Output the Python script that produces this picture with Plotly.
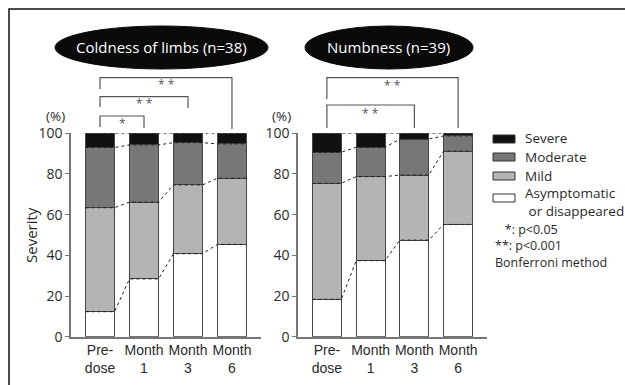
import numpy as np
import plotly.graph_objects as go

# Timepoints and severity shares (%) per panel
timepoints = ["Pre-<br>dose", "Month<br>1", "Month<br>3", "Month<br>6"]
severity_levels = ["Asymptomatic or disappeared", "Mild", "Moderate", "Severe"]

coldness_asymptomatic = [12.3, 28.4, 40.8, 45.4]
coldness_mild = [51.1, 37.8, 33.8, 32.5]
coldness_moderate = [29.6, 28.1, 20.8, 16.9]
coldness_severe = [7.0, 5.7, 4.6, 5.2]

numbness_asymptomatic = [18.4, 37.4, 47.5, 55.2]
numbness_mild = [57.0, 41.3, 32.0, 36.1]
numbness_moderate = [15.3, 14.4, 17.7, 7.4]
numbness_severe = [9.3, 6.9, 2.8, 1.3]

y_ticks = [0, 20, 40, 60, 80, 100]

W, H = 625, 385
BAR_W = 0.66
colors = ["#ffffff", "#b4b4b4", "#777777", "#111111"]
TXT = "#2a2a2a"
AX = "#777777"
FONT = "Open Sans, Liberation Sans, sans-serif"
NARROW = "Liberation Sans Narrow, Liberation Sans, Arial, sans-serif"
NBSP = "\u00a0"


def px(x):
    return x / W


def py(y):
    return 1 - y / H


fig = go.Figure()

panels = [
    ("x", "y", [coldness_asymptomatic, coldness_mild, coldness_moderate, coldness_severe]),
    ("x2", "y2", [numbness_asymptomatic, numbness_mild, numbness_moderate, numbness_severe]),
]

cats = np.arange(len(timepoints))
for xa, ya, series in panels:
    for vals, col, name in zip(series, colors, severity_levels):
        fig.add_trace(go.Bar(
            x=cats, y=vals, width=BAR_W, name=name, xaxis=xa, yaxis=ya,
            marker=dict(color=col, line=dict(color="#444444", width=1)),
            showlegend=False, hoverinfo="skip",
        ))
    # dotted connectors between the boundaries of consecutive bars
    cum = np.cumsum(np.array(series), axis=0)
    for level in cum:
        xs, ys = [], []
        for i, v in zip(cats, level):
            xs += [i - BAR_W / 2, i + BAR_W / 2]
            ys += [v, v]
        fig.add_trace(go.Scatter(
            x=xs, y=ys, mode="lines", xaxis=xa, yaxis=ya,
            line=dict(color="#222222", width=1, dash="dot"),
            showlegend=False, hoverinfo="skip", cliponaxis=False,
        ))

ydom = [py(336.7), py(133.3)]
axis_common = dict(
    showgrid=False, zeroline=False, showline=True, linecolor=AX, linewidth=1.5,
    automargin=False, fixedrange=True,
)
xtick_common = dict(tickvals=list(cats), ticktext=timepoints, ticks="", tickangle=0,
                    tickfont=dict(family=NARROW, size=14, color=TXT))
ytick_common = dict(tickvals=y_ticks, ticks="outside", ticklen=4, tickcolor=AX,
                    tickwidth=1.2, tickfont=dict(size=14, color=TXT))
fig.update_layout(
    width=W, height=H, margin=dict(l=0, r=0, t=0, b=0, pad=0), autosize=False,
    paper_bgcolor="white", plot_bgcolor="white", barmode="stack",
    font=dict(family=FONT, color=TXT),
    xaxis=dict(domain=[px(71), px(261)], range=[-0.66, 3.66], anchor="y",
               **xtick_common, **axis_common),
    yaxis=dict(domain=ydom, range=[0, 100], anchor="x", **ytick_common, **axis_common),
    xaxis2=dict(domain=[px(298), px(487)], range=[-0.66, 3.66], anchor="y2",
                **xtick_common, **axis_common),
    yaxis2=dict(domain=ydom, range=[0, 100], anchor="x2", **ytick_common, **axis_common),
)

shapes = []
ann = []

# outer frame (top and left edges visible)
shapes.append(dict(type="rect", xref="paper", yref="paper",
                   x0=px(9), x1=px(640), y0=py(400), y1=py(9),
                   line=dict(color="#111111", width=1.5), fillcolor="rgba(0,0,0,0)"))

# panel titles in black ellipses
titles = [("Coldness of limbs (n=38)", 55, 268), ("Numbness (n=39)", 305, 473)]
for text, x0, x1 in titles:
    shapes.append(dict(type="circle", xref="paper", yref="paper",
                       x0=px(x0), x1=px(x1), y0=py(69), y1=py(26),
                       fillcolor="#0a0a0a", line=dict(color="#0a0a0a", width=1)))
    ann.append(dict(x=px((x0 + x1) / 2), y=py(47.5), xref="paper", yref="paper",
                    text=text, showarrow=False, xanchor="center", yanchor="middle",
                    font=dict(size=15, color="white")))

# significance brackets: (x-axis, start, end, left leg bottom, top, right leg bottom, label, label y)
brackets = [
    ("x", 0, 3, 89, 77.7, 129, "* *", 85),
    ("x", 0, 2, 107, 96.7, 108, "* *", 104),
    ("x", 0, 1, 127, 116, 128, "*", 123),
    ("x2", 0, 3, 99, 77.7, 128, "* *", 86),
    ("x2", 0, 2, 128, 105, 128, "* *", 113),
]
for xa, a, b, lb, top, rb, lab, ly in brackets:
    shapes.append(dict(type="path", xref=xa, yref="paper",
                       path=f"M {a},{py(lb)} L {a},{py(top)} L {b},{py(top)} L {b},{py(rb)}",
                       line=dict(color="#555555", width=1.2)))
    ann.append(dict(x=(a + b) / 2, y=py(ly), xref=xa, yref="paper", text=lab,
                    showarrow=False, xanchor="center", yanchor="middle",
                    font=dict(size=12, color="#555555")))

# unit labels and y title
for xc in (55, 281):
    ann.append(dict(x=px(xc), y=py(116.5), xref="paper", yref="paper", text="(%)",
                    showarrow=False, xanchor="center", yanchor="middle",
                    font=dict(size=13.5, color=TXT)))
ann.append(dict(x=px(31), y=py(235), xref="paper", yref="paper", text="Severity",
                textangle=-90, showarrow=False, xanchor="center", yanchor="middle",
                font=dict(size=15, color=TXT)))

# legend swatches and labels
legend_rows = [
    (colors[3], 139, "Severe", 138.5),
    (colors[2], 157, "Moderate", 156.5),
    (colors[1], 176, "Mild", 175.5),
    (colors[0], 198, "Asymptomatic<br>" + NBSP + "or disappeared", 201.5),
]
for col, yc, label, ty in legend_rows:
    shapes.append(dict(type="rect", xref="paper", yref="paper",
                       x0=px(493), x1=px(515), y0=py(yc + 4), y1=py(yc - 4),
                       fillcolor=col, line=dict(color="#333333", width=1)))
    ann.append(dict(x=px(523), y=py(ty), xref="paper", yref="paper", text=label,
                    showarrow=False, xanchor="left", yanchor="middle", align="left",
                    font=dict(size=13.5, color=TXT)))

# significance notes
notes = NBSP * 3 + "*: p<0.05<br>**: p<0.001<br>Bonferroni method"
ann.append(dict(x=px(493), y=py(245.5), xref="paper", yref="paper", text=notes,
                showarrow=False, xanchor="left", yanchor="middle", align="left",
                font=dict(size=12.5, color=TXT)))

fig.update_layout(shapes=shapes, annotations=ann)
fig.write_html("out.html", config={"displayModeBar": False})
